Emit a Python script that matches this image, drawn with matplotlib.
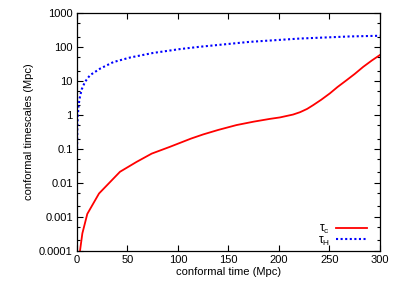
import numpy as np
import matplotlib.pyplot as plt
from matplotlib.ticker import LogLocator, MultipleLocator, NullFormatter

plt.rcParams['font.family'] = ['Liberation Sans', 'DejaVu Sans']
plt.rcParams['mathtext.fontset'] = 'custom'
plt.rcParams['mathtext.rm'] = 'Liberation Sans'

# tau_c : photon-baryon collision time
tc_t = [2.5, 3.0, 5.3, 10.2, 21.8, 42.6, 59, 74, 92, 102, 113, 125, 140, 158,
        175, 191, 201, 214, 221, 228, 234, 242, 250.5, 258, 267, 275, 283.5,
        292, 300]
tc_v = [5e-5, 1e-4, 3.2e-4, 1.2e-3, 4.8e-3, 0.021, 0.041, 0.072, 0.114, 0.149,
        0.20, 0.265, 0.36, 0.50, 0.63, 0.76, 0.84, 1.02, 1.2, 1.5, 1.94, 2.8,
        4.3, 6.6, 10.5, 16, 26, 40, 58]

# tau_H : conformal Hubble time
th_t = [0.08, 0.3, 0.7, 1.5, 2.5, 4.6, 7.9, 12.9, 22.8, 36, 52.5, 75.5, 102,
        122, 171, 221, 270, 300]
th_v = [0.1, 0.36, 0.85, 1.8, 3.0, 5.6, 9.4, 14.8, 23, 36, 49, 67, 87,
        102, 142, 178, 205, 215]

fig = plt.figure(figsize=(3.99, 2.85), dpi=100)
ax = fig.add_axes([0.193, 0.121, 0.759, 0.833])

ax.plot(tc_t, tc_v, color='#ff0000', lw=1.3, label=r'τ$_\mathrm{c}$')
ax.plot(th_t, th_v, color='#0000ff', lw=1.5, ls=(0, (1, 1.2)), label=r'τ$_\mathrm{H}$')

ax.set_yscale('log')
ax.set_xlim(0, 300)
ax.set_ylim(1e-4, 1e3)
ax.xaxis.set_major_locator(MultipleLocator(50))
ax.yaxis.set_minor_locator(LogLocator(base=10, subs=[2, 5], numticks=20))
ax.yaxis.set_minor_formatter(NullFormatter())
ax.set_yticks([1e-4, 1e-3, 1e-2, 1e-1, 1, 10, 100, 1000])
ax.set_yticklabels(['0.0001', '0.001', '0.01', '0.1', '1', '10', '100', '1000'])

ax.tick_params(which='both', direction='in', top=True, right=True, labelsize=8, width=0.8)
ax.tick_params(which='major', length=4.5, pad=3)
ax.tick_params(which='minor', length=2.5)
for s in ax.spines.values():
    s.set_linewidth(0.9)

ax.set_xlabel('conformal time (Mpc)', fontsize=8, labelpad=2)
ax.set_ylabel('conformal timescales (Mpc)', fontsize=8, labelpad=4)

ax.legend(loc='lower right', frameon=False, markerfirst=False, fontsize=8.5,
          handlelength=2.6, handletextpad=0.5, labelspacing=-0.1,
          borderpad=0, borderaxespad=0, bbox_to_anchor=(0.956, 0.012))

fig.savefig('out.png', dpi=100)
